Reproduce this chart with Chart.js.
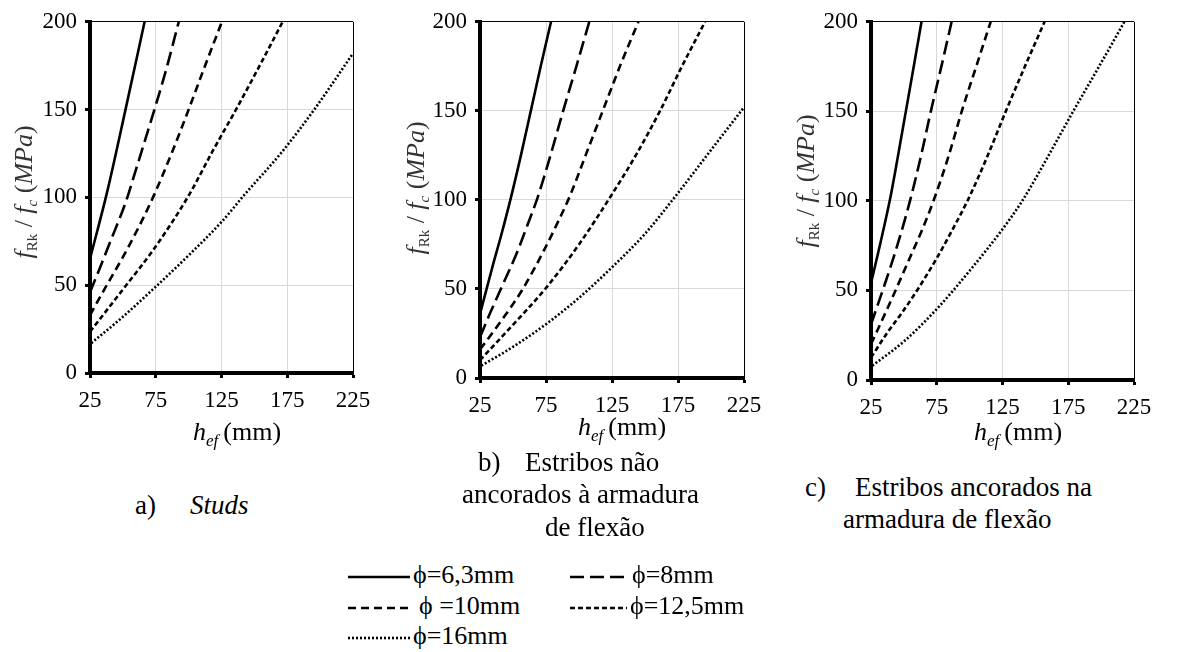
<!DOCTYPE html>
<html>
<head>
<meta charset="UTF-8">
<title>fRk / fc x hef</title>
<script src="https://cdn.jsdelivr.net/npm/chart.js"></script>
<style>
	body {
		margin: 0;
		padding: 0;
		background: #fff;
		font-family: 'Liberation Serif', 'Times New Roman', 'DejaVu Serif', serif;
		color: #000;
	}

	#page {
		position: relative;
		width: 1178px;
		height: 652px;
		overflow: hidden;
	}

	.panel {
		position: absolute;
		top: 0;
	}

	.cap {
		position: absolute;
		font-size: 27px;
		line-height: 30px;
		white-space: pre;
	}

	.legtxt {
		position: absolute;
		font-size: 26px;
		line-height: 28px;
		white-space: pre;
	}

	.legline {
		position: absolute;
	}
</style>
</head>

<body>
<div id="page">
	<canvas id="chartA" class="panel" style="left:0px" width="380" height="455"></canvas>
	<canvas id="chartB" class="panel" style="left:390px" width="390" height="455"></canvas>
	<canvas id="chartC" class="panel" style="left:780px" width="398" height="455"></canvas>

	<!-- captions -->
	<span class="cap" style="left:135px; top:490px">a)</span>
	<span class="cap" style="left:190px; top:490px"><i>Studs</i></span>

	<span class="cap" style="left:478px; top:447px">b)</span>
	<span class="cap" style="left:525px; top:447px">Estribos não</span>
	<span class="cap" style="left:462px; top:479px">ancorados à armadura</span>
	<span class="cap" style="left:545px; top:512px">de flexão</span>

	<span class="cap" style="left:805px; top:472px">c)</span>
	<span class="cap" style="left:855px; top:472px">Estribos ancorados na</span>
	<span class="cap" style="left:843px; top:504px">armadura de flexão</span>

	<div id="legend"></div>
</div>

<script>
	// eixo x: h_ef (mm), eixo y: f_Rk / f_c (MPa)
	var seriesLabels = ['\u03D5=6,3mm', '\u03D5=8mm', '\u03D5 =10mm', '\u03D5=12,5mm', '\u03D5=16mm'];
	var xTicks = [25, 75, 125, 175, 225];
	var yTicks = [0, 50, 100, 150, 200];

	// a) Studs
	var a_h63 = [25, 38, 52, 66.5];
	var a_f63 = [65, 103, 150, 200];
	var a_h8 = [25, 31, 40, 52.5, 60, 74, 83, 92.5];
	var a_f8 = [46, 57, 74, 98, 116, 150, 173, 200];
	var a_h10 = [25, 37, 50, 62, 73.5, 87, 100, 112, 125.3];
	var a_f10 = [33, 49, 66, 83, 101, 125, 150, 174, 200];
	var a_h125 = [25, 51.5, 73, 100, 118, 136, 154, 171.5];
	var a_f125 = [23.5, 49, 70, 101, 126, 150, 175, 200];
	var a_h16 = [26, 50, 70.5, 100, 125, 143, 170, 195.5, 225];
	var a_f16 = [17, 32, 46, 67, 86, 102, 125, 150, 182];

	// b) Estribos não ancorados à armadura de flexão
	var b_h63 = [25, 30, 35, 41, 48, 56, 63.5, 71, 78.8];
	var b_f63 = [36, 50, 64, 80, 100, 125, 150, 175, 200];
	var b_h8 = [25, 33, 42.6, 52.8, 60, 68.5, 78, 88, 98, 107.8];
	var b_f8 = [23, 37, 53, 70, 84, 101, 124, 150, 175, 200];
	var b_h10 = [25, 40, 56.6, 73, 83, 93, 105, 118, 131, 145];
	var b_f10 = [16, 31, 49, 71, 86, 102, 125, 150, 175, 200];
	var b_h125 = [25, 46.4, 75.5, 100, 124, 143, 161.4, 178, 195.5];
	var b_f125 = [10, 27, 51, 75, 102, 125, 150, 175, 200];
	var b_h16 = [26, 50, 75.5, 100, 124.8, 150, 173, 200, 225];
	var b_f16 = [7, 17.5, 30.5, 45, 62, 81, 102, 128, 152];

	// c) Estribos ancorados na armadura de flexão
	var c_h63 = [25, 32, 39.5, 45.5, 51.5, 57.5, 63.4];
	var c_f63 = [54, 76, 101, 125, 150, 175, 200];
	var c_h8 = [25, 32, 38.9, 47, 55, 63, 70.5, 78.5, 86.3];
	var c_f8 = [31, 46, 61, 80, 101, 125, 150, 175, 200];
	var c_h10 = [25, 40, 55, 64, 73, 84, 94, 105, 116];
	var c_f10 = [20, 44, 69, 84, 101, 125, 150, 175, 200];
	var c_h125 = [25, 37, 49, 60, 75, 87, 99, 113, 127.5, 142, 157];
	var c_f125 = [12.5, 26, 38, 50, 68, 84, 101, 124, 150, 175, 200];
	var c_h16 = [26, 50, 75.5, 100, 124.8, 140, 159, 178, 198, 217.7];
	var c_f16 = [8, 21.5, 40, 61, 84, 100, 124, 149, 174.5, 200];

	// estilos das linhas (mesma ordem de seriesLabels)
	var dashes = [[], [14, 6], [8, 5], [5, 3], [2, 2]];

	// escolhe a primeira fonte serifada instalada
	function pickFont(list) {
		var c = document.createElement('canvas').getContext('2d');
		var probe = 'mmmmmmmmmmlli WWW 0123456789';
		c.font = '40px monospace';
		var base = c.measureText(probe).width;
		for (var i = 0; i < list.length; i++) {
			c.font = "40px '" + list[i] + "', monospace";
			if (Math.abs(c.measureText(probe).width - base) > 0.5) return list[i];
		}
		return null;
	}
	var picked = pickFont(['Liberation Serif', 'Times New Roman', 'Tinos', 'DejaVu Serif', 'Noto Serif', 'FreeSerif']);
	var serif = picked ? "'" + picked + "', serif" : 'serif';
	document.body.style.fontFamily = serif;

	function fontOf(p) {
		return (p.it ? 'italic ' : '') + p.s + 'px ' + serif;
	}

	function drawRich(ctx, parts, cx, baseY) {
		var total = 0;
		parts.forEach(function (p) {
			ctx.font = fontOf(p);
			p.w = ctx.measureText(p.t).width;
			total += p.w;
		});
		var x = cx - total / 2;
		ctx.textAlign = 'left';
		ctx.textBaseline = 'alphabetic';
		parts.forEach(function (p) {
			ctx.font = fontOf(p);
			ctx.fillText(p.t, x, baseY + (p.dy || 0));
			x += p.w;
		});
	}

	var xTitle = [
		{ t: 'h', it: true, s: 26 },
		{ t: 'ef', it: true, s: 17, dy: 6 },
		{ t: '\u2009(mm)', s: 26 }
	];
	var yTitle = [
		{ t: 'f', it: true, s: 26 },
		{ t: 'Rk', s: 15, dy: 5 },
		{ t: ' / ', s: 26 },
		{ t: 'f', it: true, s: 26 },
		{ t: 'c', it: true, s: 15, dy: 5 },
		{ t: ' (', s: 26 },
		{ t: 'MPa', it: true, s: 26 },
		{ t: ')', s: 26 }
	];

	// titulos dos eixos com subscrito
	var axisTitles = {
		id: 'axisTitles',
		afterDraw: function (chart, args, opts) {
			var ctx = chart.ctx;
			ctx.save();
			ctx.fillStyle = '#000';
			drawRich(ctx, xTitle, opts.xPos[0], opts.xPos[1]);
			ctx.fillStyle = '#333';
			ctx.translate(opts.yPos[0], opts.yPos[1]);
			ctx.rotate(-Math.PI / 2);
			drawRich(ctx, yTitle, 0, 0);
			ctx.restore();
		}
	};

	function toPoints(h, f) {
		return h.map(function (x, i) { return { x: x, y: f[i] }; });
	}

	function createPanel(canvasId, hs, fs, g) {
		var canvas = document.getElementById(canvasId);
		var W = canvas.width, H = canvas.height;
		var datasets = hs.map(function (h, i) {
			return {
				label: seriesLabels[i],
				data: toPoints(h, fs[i]),
				borderColor: '#000',
				borderWidth: 2.6,
				borderDash: dashes[i],
				borderCapStyle: 'butt',
				pointRadius: 0,
				fill: false,
				cubicInterpolationMode: 'monotone'
			};
		});
		var tickFont = { family: serif, size: 23 };
		return new Chart(canvas.getContext('2d'), {
			type: 'line',
			data: { datasets: datasets },
			options: {
				responsive: false,
				animation: false,
				devicePixelRatio: 1,
				layout: { padding: { top: g.top, right: W - g.right, left: 0, bottom: 0 } },
				plugins: {
					legend: { display: false },
					tooltip: { enabled: false },
					axisTitles: { xPos: g.xTitle, yPos: g.yTitle }
				},
				scales: {
					x: {
						type: 'linear',
						min: xTicks[0],
						max: xTicks[xTicks.length - 1],
						afterBuildTicks: function (s) { s.ticks = xTicks.map(function (v) { return { value: v }; }); },
						ticks: { font: tickFont, color: '#000', padding: 9, maxRotation: 0 },
						grid: {
							color: function (c) { return c.tick && c.tick.value === 225 ? '#000' : '#d9d9d9'; },
							lineWidth: 1,
							tickColor: '#000',
							tickLength: 5,
							tickWidth: 3
						},
						border: { display: true, color: '#000', width: 4 },
						afterFit: function (s) { s.height = H - g.bottom; }
					},
					y: {
						min: yTicks[0],
						max: yTicks[yTicks.length - 1],
						afterBuildTicks: function (s) { s.ticks = yTicks.map(function (v) { return { value: v }; }); },
						ticks: { font: tickFont, color: '#000', padding: 8 },
						grid: {
							color: function (c) { return c.tick && c.tick.value === 200 ? '#000' : '#d9d9d9'; },
							lineWidth: 1,
							tickColor: '#000',
							tickLength: 5,
							tickWidth: 3
						},
						border: { display: true, color: '#000', width: 4 },
						afterFit: function (s) { s.width = g.left; }
					}
				}
			},
			plugins: [axisTitles]
		});
	}

	createPanel('chartA',
		[a_h63, a_h8, a_h10, a_h125, a_h16],
		[a_f63, a_f8, a_f10, a_f125, a_f16],
		{ left: 90, right: 353, top: 18, bottom: 373, xTitle: [237, 440], yTitle: [32, 192] });

	createPanel('chartB',
		[b_h63, b_h8, b_h10, b_h125, b_h16],
		[b_f63, b_f8, b_f10, b_f125, b_f16],
		{ left: 90, right: 354, top: 19, bottom: 378, xTitle: [232, 435], yTitle: [34, 188] });

	createPanel('chartC',
		[c_h63, c_h8, c_h10, c_h125, c_h16],
		[c_f63, c_f8, c_f10, c_f125, c_f16],
		{ left: 91, right: 354, top: 18, bottom: 380, xTitle: [238, 440], yTitle: [34, 181] });

	// legenda (duas colunas)
	var legendPos = [
		{ lx: 348, lw: 62, tx: 413, y: 577 },
		{ lx: 570, lw: 58, tx: 632, y: 577 },
		{ lx: 348, lw: 62, tx: 419, y: 608 },
		{ lx: 570, lw: 57, tx: 630, y: 608 },
		{ lx: 348, lw: 62, tx: 413, y: 638 }
	];
	var legend = document.getElementById('legend');
	seriesLabels.forEach(function (label, i) {
		var p = legendPos[i];
		var c = document.createElement('canvas');
		c.className = 'legline';
		c.width = p.lw;
		c.height = 10;
		c.style.left = p.lx + 'px';
		c.style.top = (p.y - 5) + 'px';
		legend.appendChild(c);
		var ctx = c.getContext('2d');
		ctx.strokeStyle = '#000';
		ctx.lineWidth = 2.6;
		ctx.setLineDash(dashes[i]);
		ctx.beginPath();
		ctx.moveTo(0, 5);
		ctx.lineTo(p.lw, 5);
		ctx.stroke();

		var t = document.createElement('span');
		t.className = 'legtxt';
		t.textContent = label;
		t.style.left = p.tx + 'px';
		t.style.top = (p.y - 16) + 'px';
		legend.appendChild(t);
	});
</script>
</body>
</html>
